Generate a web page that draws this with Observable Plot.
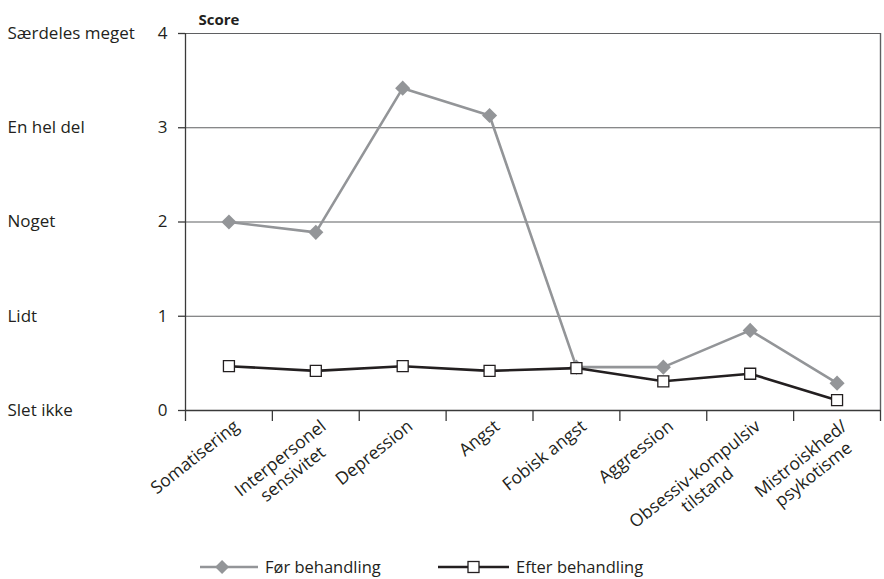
<!DOCTYPE html>
<html><head><meta charset="utf-8">
<script src="https://cdn.jsdelivr.net/npm/d3@7"></script>
<script src="https://cdn.jsdelivr.net/npm/@observablehq/plot@0.6"></script>
<style>
body{margin:0;background:#fff;font-family:"Open Sans",sans-serif;color:#231f20;}
#wrap{position:relative;width:884px;height:579px;}
.leg{position:absolute;top:556px;display:flex;align-items:center;font-size:16.5px;color:#231f20;line-height:22px;}
.leg svg{margin-right:7px;}
</style></head><body>
<div id="wrap"><div id="chart"></div>
<div class="leg" id="leg1" style="left:200px"></div>
<div class="leg" id="leg2" style="left:438px"></div>
</div>
<script>
const categories = ["Somatisering","Interpersonel\nsensivitet","Depression","Angst","Fobisk angst","Aggression","Obsessiv-kompulsiv\ntilstand","Mistroiskhed/\npsykotisme"];
const before = [2.0, 1.89, 3.42, 3.13, 0.46, 0.46, 0.85, 0.29];
const after = [0.47, 0.42, 0.47, 0.42, 0.45, 0.31, 0.39, 0.11];
const yTicks = [0, 1, 2, 3, 4];
const yWords = ["Slet ikke", "Lidt", "Noget", "En hel del", "Særdeles meget"];
const seriesNames = ["Før behandling", "Efter behandling"];
const yTitle = "Score";

const FONT = '"Open Sans", sans-serif';
const FS = 17;
const LFS = 17.5;
const ROT = -38.5;
const beforeRows = categories.map((c, i) => ({i: i + 0.5, v: before[i]}));
const afterRows = categories.map((c, i) => ({i: i + 0.5, v: after[i]}));
const wordRows = yTicks.map((t, k) => ({t, w: yWords[k]}));

const ctx = document.createElement("canvas").getContext("2d");
ctx.font = `${LFS}px ${FONT}`;
const ang = ROT * Math.PI / 180;
const ux = Math.cos(ang), uy = Math.sin(ang);
const vx = -Math.sin(ang), vy = Math.cos(ang);
const LHF = 1.15;
const labelMarks = categories.map((c, i) => {
  const lines = c.split("\n");
  const W = Math.max(...lines.map(l => ctx.measureText(l).width));
  const H = lines.length * LHF * LFS;
  const dx = 1 - (W / 2) * ux + (H / 2) * vx;
  const dy = 5 - (W / 2) * uy + (H / 2) * vy;
  return Plot.text([{i: i + 0.5, c}], {x: "i", text: "c", frameAnchor: "bottom", textAnchor: "middle", lineAnchor: "middle", lineHeight: LHF, rotate: ROT, dx, dy, fontSize: LFS, fill: "#231f20"});
});

const chart = Plot.plot({
  width: 884, height: 545,
  marginTop: 33, marginLeft: 185, marginRight: 4, marginBottom: 135,
  style: {fontFamily: FONT, fontSize: FS + "px", color: "#231f20", background: "#fff"},
  x: {domain: [0, 8], axis: null},
  y: {domain: [0, 4], axis: null},
  marks: [
    Plot.ruleY([1, 2, 3, 4], {stroke: "#5f6062", strokeWidth: 1.2}),
    Plot.ruleX([8], {stroke: "#5f6062", strokeWidth: 1.4}),
    Plot.ruleX([0], {stroke: "#3a3a3a", strokeWidth: 1.3}),
    Plot.ruleY([0], {stroke: "#3a3a3a", strokeWidth: 1.3}),
    Plot.axisY({ticks: yTicks, tickSize: 7, tickPadding: 11, tickFormat: d3.format("d"), stroke: "#3a3a3a", strokeWidth: 1.3, fontSize: FS, fill: "#231f20", label: null}),
    Plot.axisX({ticks: d3.range(0, 9), tickSize: 11, tickFormat: () => "", stroke: "#3a3a3a", strokeWidth: 1.3, label: null}),
    Plot.text(wordRows, {y: "t", text: "w", frameAnchor: "left", textAnchor: "start", dx: -178, fontSize: FS, fill: "#231f20"}),
    Plot.text([yTitle], {frameAnchor: "top-left", dx: 13, dy: -19, textAnchor: "start", fontWeight: "bold", fontSize: 15, fill: "#231f20"}),
    Plot.line(beforeRows, {x: "i", y: "v", stroke: "#939598", strokeWidth: 2.6}),
    Plot.dot(beforeRows, {x: "i", y: "v", symbol: "diamond2", r: 6.8, fill: "#939598", stroke: "none"}),
    Plot.line(afterRows, {x: "i", y: "v", stroke: "#231f20", strokeWidth: 2.6}),
    Plot.dot(afterRows, {x: "i", y: "v", symbol: "square", r: 6.2, fill: "#fff", stroke: "#231f20", strokeWidth: 1.3}),
    ...labelMarks
  ]
});
document.getElementById("chart").append(chart);

function swatch(color, sym, w) {
  const s = d3.create("svg").attr("width", w).attr("height", 16);
  s.append("line").attr("x1", 0).attr("x2", w).attr("y1", 8).attr("y2", 8).attr("stroke", color).attr("stroke-width", 2.6);
  if (sym === "diamond") {
    s.append("path").attr("d", `M${w*0.38},1L${w*0.38+7},8L${w*0.38},15L${w*0.38-7},8Z`).attr("fill", color);
  } else {
    s.append("rect").attr("x", w/2 - 5.5).attr("y", 2.5).attr("width", 11).attr("height", 11).attr("fill", "#fff").attr("stroke", color).attr("stroke-width", 1.3);
  }
  return s.node();
}
const l1 = document.getElementById("leg1");
l1.append(swatch("#939598", "diamond", 58));
l1.append(document.createTextNode(seriesNames[0]));
const l2 = document.getElementById("leg2");
l2.append(swatch("#231f20", "square", 71));
l2.append(document.createTextNode(seriesNames[1]));
</script>
</body></html>
